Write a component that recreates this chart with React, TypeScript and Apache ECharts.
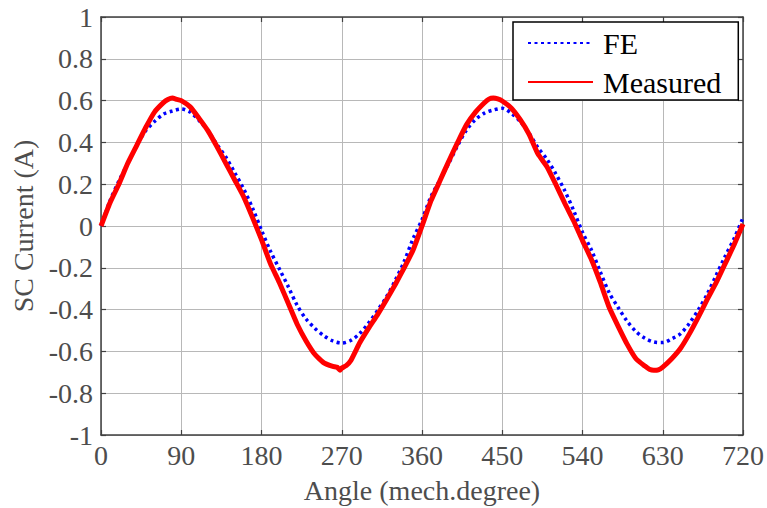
import React, { useEffect, useRef } from "react";
import * as echarts from "echarts";

const xTickValues = [0, 90, 180, 270, 360, 450, 540, 630, 720];
const yTickValues = [-1, -0.8, -0.6, -0.4, -0.2, 0, 0.2, 0.4, 0.6, 0.8, 1];

const seriesNames = ["FE", "Measured"];

const feAngles = [
  0, 10, 20, 30, 40, 50, 60, 70, 80, 90, 100, 110, 120, 130, 140, 150, 160, 170, 180,
  190, 200, 210, 220, 230, 240, 250, 260, 270, 280, 290, 300, 310, 320, 330, 340, 350, 360,
  370, 380, 390, 400, 410, 420, 430, 440, 450, 460, 470, 480, 490, 500, 510, 520, 530, 540,
  550, 560, 570, 580, 590, 600, 610, 620, 630, 640, 650, 660, 670, 680, 690, 700, 710, 720,
];
const feValues = [
  0, 0.12, 0.215, 0.3, 0.385, 0.455, 0.5, 0.535, 0.55, 0.56, 0.545, 0.505, 0.455, 0.39, 0.33, 0.255, 0.178, 0.085, -0.02,
  -0.12, -0.205, -0.29, -0.38, -0.445, -0.49, -0.525, -0.55, -0.56, -0.548, -0.515, -0.465, -0.405, -0.34, -0.26, -0.17, -0.06, 0.03,
  0.14, 0.22, 0.3, 0.385, 0.46, 0.51, 0.54, 0.555, 0.563, 0.54, 0.5, 0.445, 0.375, 0.32, 0.25, 0.17, 0.075, -0.03,
  -0.115, -0.22, -0.32, -0.39, -0.455, -0.505, -0.537, -0.555, -0.558, -0.54, -0.515, -0.465, -0.4, -0.325, -0.235, -0.145, -0.06, 0.04,
];

const measuredAngles = [
  0, 10, 20, 30, 40, 50, 60, 70, 75, 80, 85, 90, 100, 110, 120, 130, 140, 150, 160, 170, 180,
  190, 200, 210, 220, 230, 240, 250, 260, 265, 268, 270, 275, 280, 290, 300, 310, 320, 330, 340, 350, 360,
  370, 380, 390, 400, 410, 420, 430, 435, 440, 445, 450, 460, 470, 480, 490, 500, 510, 520, 530, 540,
  550, 560, 570, 580, 590, 600, 610, 615, 620, 625, 630, 640, 650, 660, 670, 680, 690, 700, 710, 720,
];
const measuredValues = [
  0, 0.11, 0.2, 0.3, 0.385, 0.47, 0.545, 0.59, 0.605, 0.612, 0.606, 0.6, 0.57, 0.515, 0.455, 0.38, 0.3, 0.22, 0.14, 0.04, -0.065,
  -0.18, -0.27, -0.37, -0.47, -0.55, -0.615, -0.655, -0.672, -0.676, -0.69, -0.68, -0.668, -0.645, -0.56, -0.49, -0.425, -0.354, -0.28, -0.2, -0.115, 0,
  0.12, 0.215, 0.31, 0.4, 0.485, 0.545, 0.59, 0.607, 0.612, 0.608, 0.598, 0.565, 0.51, 0.44, 0.345, 0.285, 0.2, 0.11, 0.025, -0.07,
  -0.16, -0.27, -0.39, -0.48, -0.565, -0.635, -0.67, -0.685, -0.69, -0.688, -0.675, -0.635, -0.585, -0.515, -0.435, -0.35, -0.27, -0.18, -0.09, 0.01,
];

const FONT = "Liberation Serif";

export default function App() {
  const ref = useRef<HTMLDivElement>(null);

  useEffect(() => {
    if (!ref.current) return;
    const chart = echarts.init(ref.current, null, { renderer: "svg" });

    const axisLineStyle = { color: "#404040", width: 1.5 };
    const tickStyle = { color: "#404040", width: 1.2 };
    const labelStyle = { color: "#4d4d4d", fontSize: 28, fontFamily: FONT };
    const fmt = (v: number) => String(Math.round(v * 10) / 10);

    const feData = feAngles.map((a, i) => [a, feValues[i]]);
    const measuredData = measuredAngles.map((a, i) => [a, measuredValues[i]]);

    chart.setOption({
      animation: false,
      backgroundColor: "#ffffff",
      textStyle: { fontFamily: FONT },
      grid: { left: 101, right: 24, top: 17, bottom: 73, containLabel: false, outerBoundsMode: "none" },
      legend: {
        data: seriesNames,
        orient: "vertical",
        left: 513,
        top: 22,
        padding: [6, 17, 3, 14],
        itemWidth: 65,
        itemHeight: 14,
        itemGap: 9,
        backgroundColor: "#ffffff",
        borderColor: "#000000",
        borderWidth: 1.5,
        borderRadius: 0,
        itemStyle: { opacity: 0 },
        textStyle: { color: "#000000", fontSize: 30, fontFamily: FONT, padding: [0, 0, 0, 5] },
      },
      xAxis: [
        {
          type: "value",
          min: xTickValues[0],
          max: xTickValues[xTickValues.length - 1],
          interval: 90,
          position: "bottom",
          name: "Angle (mech.degree)",
          nameLocation: "middle",
          nameGap: 41,
          nameTextStyle: { color: "#4d4d4d", fontSize: 28, fontFamily: FONT },
          axisLine: { show: true, onZero: false, lineStyle: axisLineStyle },
          axisTick: { show: true, inside: true, length: 5, lineStyle: tickStyle },
          axisLabel: { ...labelStyle, margin: 6 },
          splitLine: { show: true, lineStyle: { color: "#b8b8b8", width: 1 } },
        },
        {
          type: "value",
          min: xTickValues[0],
          max: xTickValues[xTickValues.length - 1],
          interval: 90,
          position: "top",
          axisLine: { show: true, onZero: false, lineStyle: axisLineStyle },
          axisTick: { show: true, inside: true, length: 5, lineStyle: tickStyle },
          axisLabel: { show: false },
          splitLine: { show: false },
        },
      ],
      yAxis: [
        {
          type: "value",
          min: yTickValues[0],
          max: yTickValues[yTickValues.length - 1],
          interval: 0.2,
          position: "left",
          name: "SC Current (A)",
          nameLocation: "middle",
          nameGap: 61,
          nameRotate: 90,
          nameTextStyle: { color: "#4d4d4d", fontSize: 28, fontFamily: FONT },
          axisLine: { show: true, onZero: false, lineStyle: axisLineStyle },
          axisTick: { show: true, inside: true, length: 5, lineStyle: tickStyle },
          axisLabel: { ...labelStyle, margin: 8, formatter: fmt },
          splitLine: { show: true, lineStyle: { color: "#b8b8b8", width: 1 } },
        },
        {
          type: "value",
          min: yTickValues[0],
          max: yTickValues[yTickValues.length - 1],
          interval: 0.2,
          position: "right",
          axisLine: { show: true, onZero: false, lineStyle: axisLineStyle },
          axisTick: { show: true, inside: true, length: 5, lineStyle: tickStyle },
          axisLabel: { show: false },
          splitLine: { show: false },
        },
      ],
      series: [
        {
          name: seriesNames[0],
          type: "line",
          xAxisIndex: 0,
          yAxisIndex: 0,
          data: feData,
          smooth: 0.3,
          showSymbol: false,
          symbol: "none",
          lineStyle: { color: "#0000ff", width: 3.5, type: [3, 3.5], cap: "butt" },
          itemStyle: { color: "#0000ff" },
        },
        {
          name: seriesNames[1],
          type: "line",
          xAxisIndex: 0,
          yAxisIndex: 0,
          data: measuredData,
          smooth: 0.15,
          showSymbol: false,
          symbol: "none",
          lineStyle: { color: "#ff0000", width: 5 },
          itemStyle: { color: "#ff0000" },
        },
      ],
    });

    return () => chart.dispose();
  }, []);

  return (
    <div
      ref={ref}
      style={{ position: "absolute", left: 0, top: 0, width: 767, height: 508, background: "#fff" }}
    />
  );
}
